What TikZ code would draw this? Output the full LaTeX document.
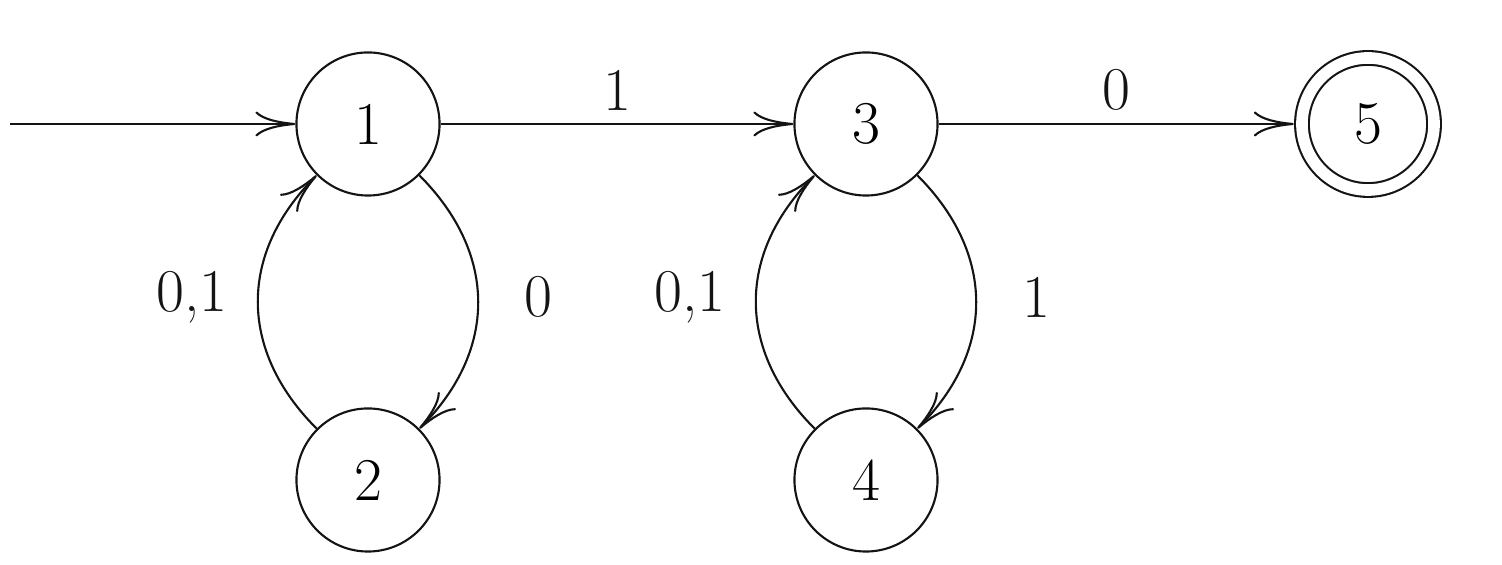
\documentclass[tikz,border=0pt]{standalone}
\usetikzlibrary{arrows.meta,positioning}
\definecolor{autoInk}{RGB}{20,20,20}

\begin{document}
\begin{tikzpicture}[
  x=0.01cm, y=0.01cm,
  statenode/.style={circle, draw=autoInk, line width=0.6pt, minimum size=1.43cm,
                    inner sep=0pt, font=\LARGE},
  accept/.style={statenode, double, double distance=3.3pt, minimum size=1.32cm,
                 outer sep=2.3pt},
  arr/.style={-{To[length=4mm,width=2.5mm]}, autoInk, line width=0.6pt},
  edgelabel/.style={font=\LARGE, inner sep=2pt},
]

\def\ytop{-124}  % row of states 1, 3, 5
\def\ybot{-480}  % row of states 2, 4

\useasboundingbox (0,0) rectangle (1502,-565);

% ─── states ────────────────────────────────────────────────────
\foreach \n/\x in {1/368, 3/866}{
  \node[statenode] (q\n) at (\x,\ytop) {\n};
}
\foreach \n/\x in {2/368, 4/866}{
  \node[statenode] (q\n) at (\x,\ybot) {\n};
}
\node[accept] (q5) at (1368,\ytop) {5};

\coordinate (start) at (10,\ytop);

% ─── straight transitions ──────────────────────────────────────
\draw[arr] (start) -- (q1);
\draw[arr] (q1) -- node[edgelabel, above=0.05cm] {1} (q3);
\draw[arr] (q3) -- node[edgelabel, above=0.05cm] {0} (q5);

% ─── loops between the rows ────────────────────────────────────
\foreach \a/\b/\dn/\up in {q1/q2/0/{0,1}, q3/q4/1/{0,1}}{
  \draw[arr] (\a.-45) to[out=-45, in=45, looseness=1.12]
      node[edgelabel, midway, right=0.38cm, yshift=0.05cm] {\dn} (\b.45);
  \draw[arr] (\b.135) to[out=135, in=-135, looseness=1.12]
      node[edgelabel, midway, left=0.22cm, yshift=0.05cm] {\up} (\a.-135);
}

\end{tikzpicture}
\end{document}
